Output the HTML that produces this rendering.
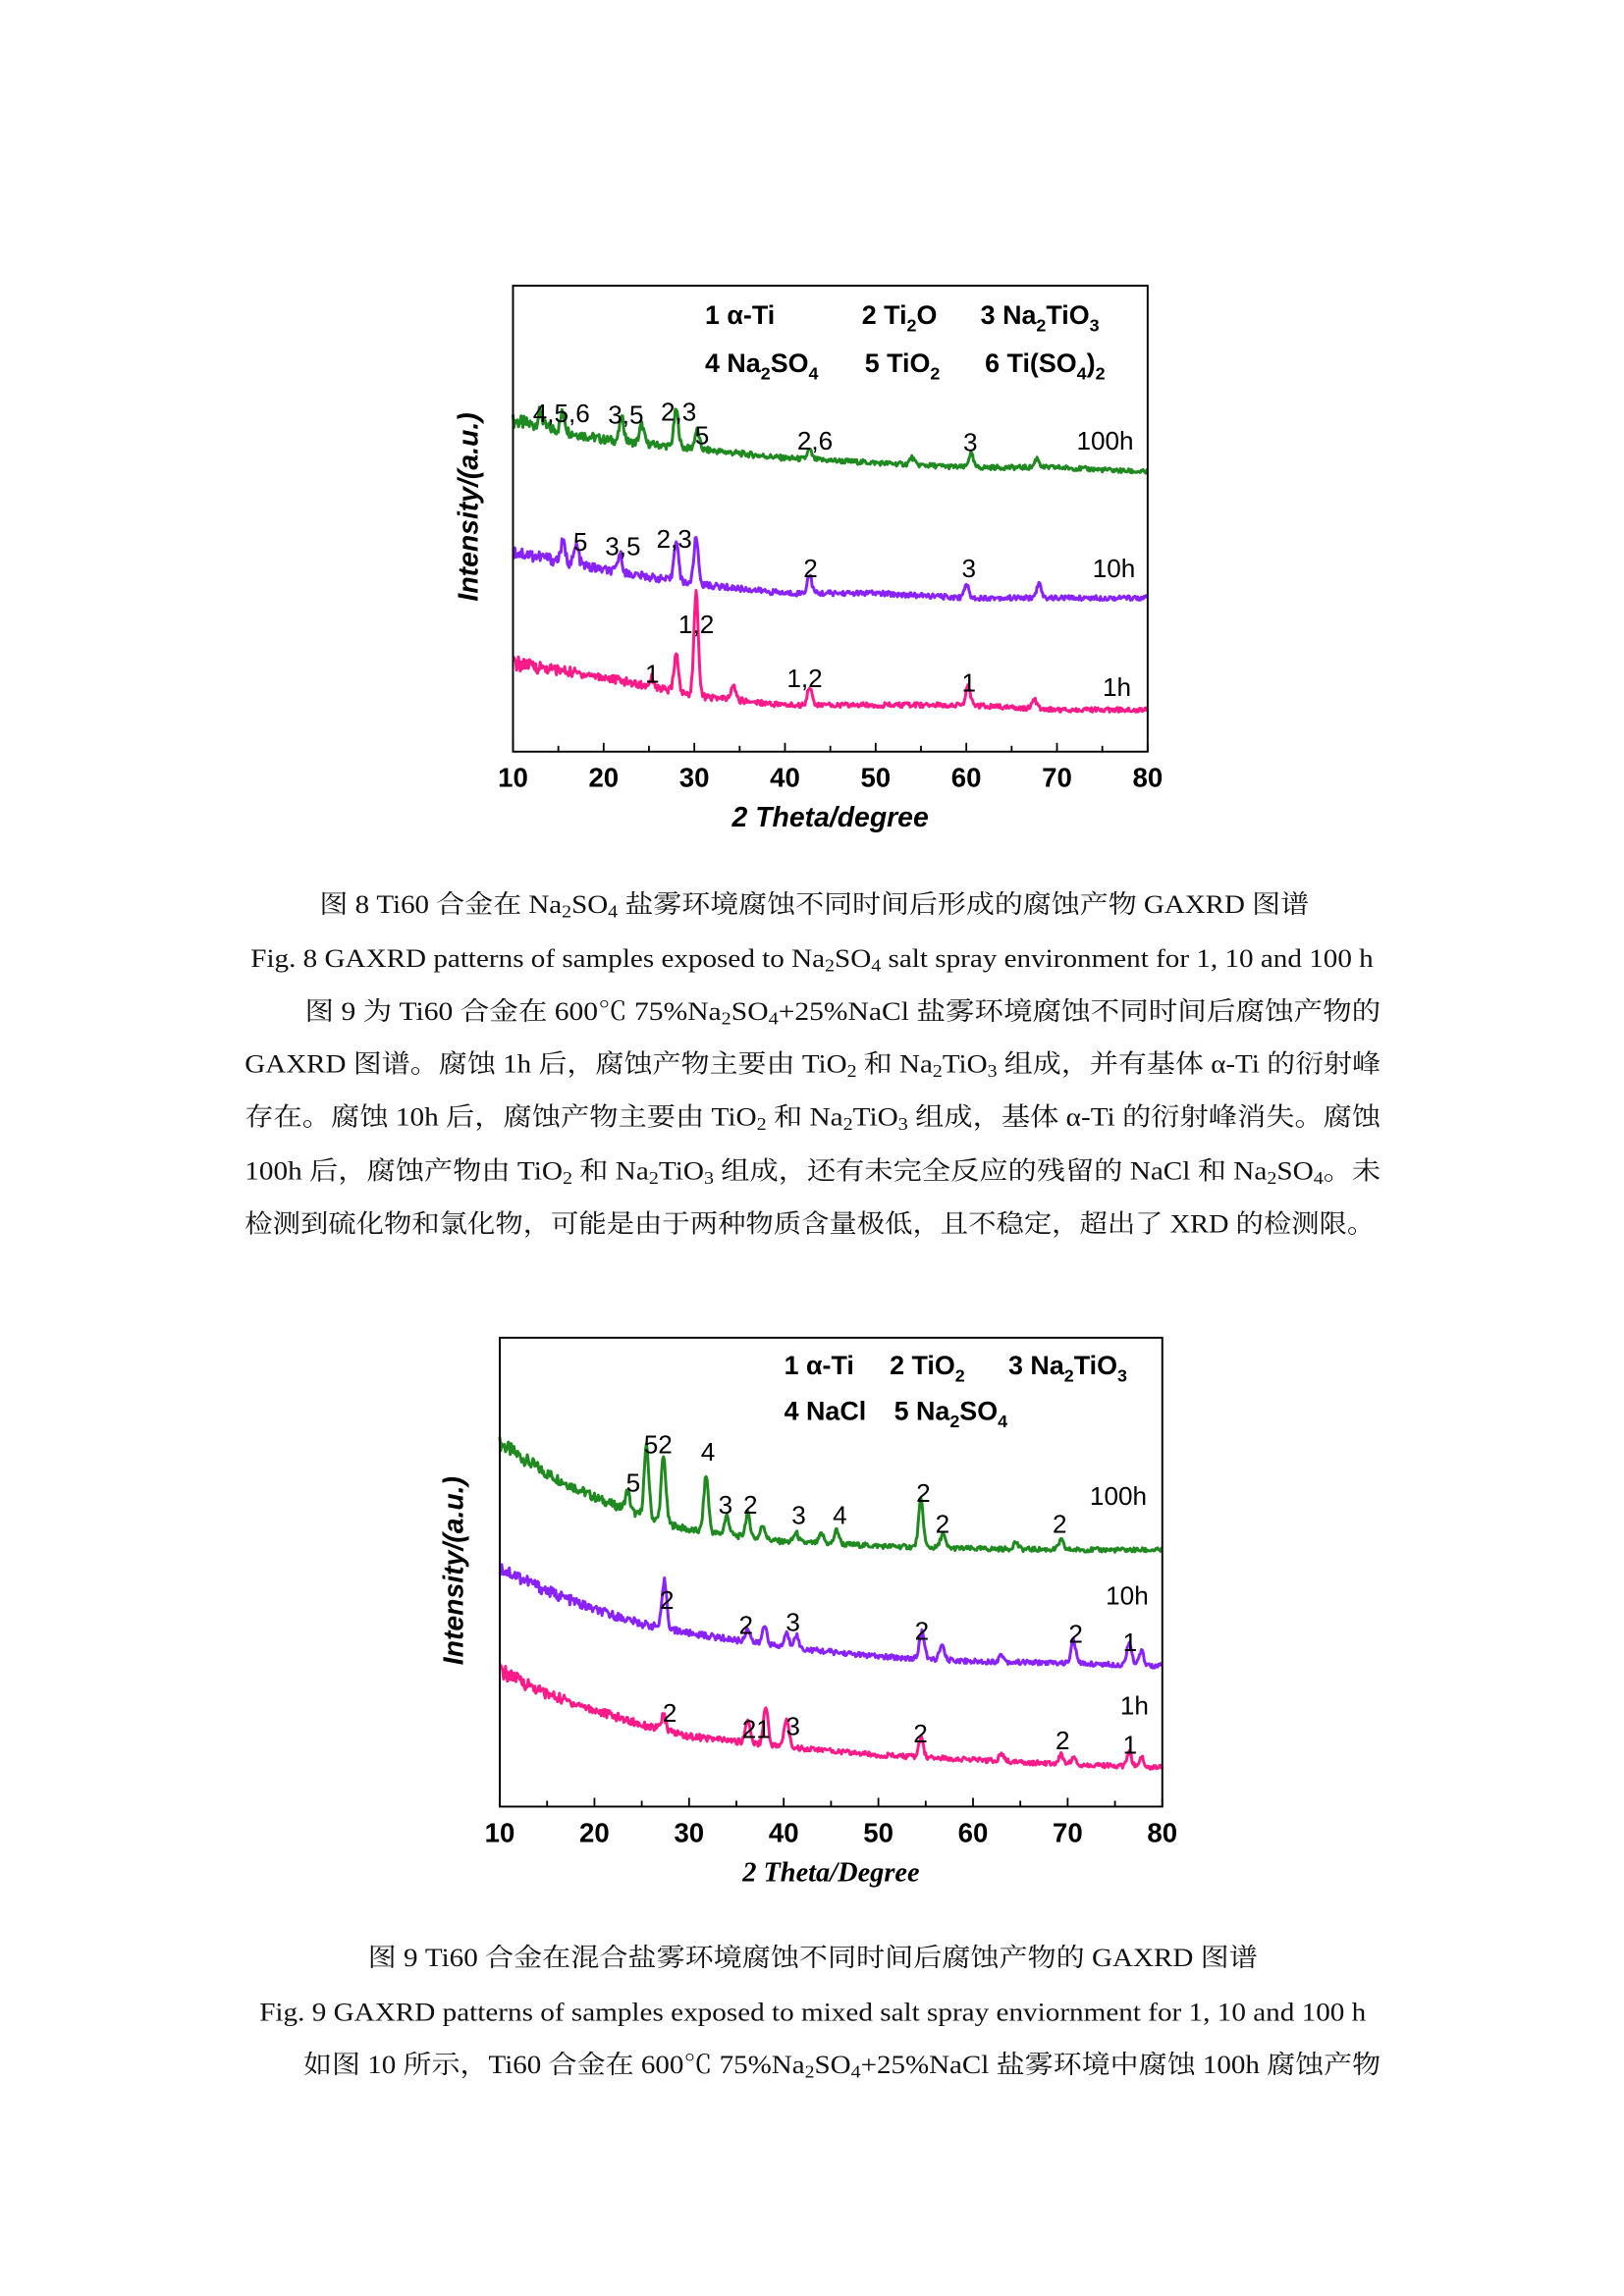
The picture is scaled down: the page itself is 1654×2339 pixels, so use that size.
<!DOCTYPE html>
<html><head><meta charset="utf-8">
<style>
html,body{margin:0;padding:0;background:#fff;}
svg{display:block;}
.t{font-family:"Liberation Serif","Noto Serif CJK SC",serif;font-size:17.5px;fill:#111;}
.ax{font-family:"Liberation Sans",sans-serif;font-weight:bold;font-size:18.5px;fill:#000;}
.lg{font-family:"Liberation Sans",sans-serif;font-weight:bold;font-size:18px;fill:#000;}
.pk{font-family:"Liberation Sans",sans-serif;font-size:17.5px;fill:#000;}
</style></head>
<body>
<svg id="page" width="1654" height="2339" viewBox="0 0 1108 1567" preserveAspectRatio="none" xmlns="http://www.w3.org/2000/svg">
<g id="c1"></g>
<g id="c2"></g>

<g class="lg">
<text x="481" y="221">1 α-Ti</text>
<text x="588" y="221">2 Ti<tspan font-size="12" dy="5">2</tspan><tspan dy="-5">O</tspan></text>
<text x="669" y="221">3 Na<tspan font-size="12" dy="5">2</tspan><tspan dy="-5">TiO</tspan><tspan font-size="12" dy="5">3</tspan></text>
<text x="481" y="254">4 Na<tspan font-size="12" dy="5">2</tspan><tspan dy="-5">SO</tspan><tspan font-size="12" dy="5">4</tspan></text>
<text x="590" y="254">5 TiO<tspan font-size="12" dy="5">2</tspan></text>
<text x="672" y="254">6 Ti(SO<tspan font-size="12" dy="5">4</tspan><tspan dy="-5">)</tspan><tspan font-size="12" dy="5">2</tspan></text>
</g>
<g class="pk" text-anchor="middle">
<text x="383" y="288">4,5,6</text><text x="427" y="289">3,5</text><text x="463" y="287">2,3</text><text x="479" y="303">5</text>
<text x="556" y="307">2,6</text><text x="662" y="308">3</text><text x="754" y="307">100h</text>
<text x="396" y="376">5</text><text x="425" y="379">3,5</text><text x="460" y="374">2,3</text>
<text x="553" y="394">2</text><text x="661" y="394">3</text><text x="760" y="394">10h</text>
<text x="475" y="432">1,2</text><text x="445" y="466">1</text><text x="549" y="469">1,2</text>
<text x="661" y="472">1</text><text x="762" y="475">1h</text>
</g>
<g class="lg">
<text x="535" y="938">1 α-Ti</text>
<text x="607" y="938">2 TiO<tspan font-size="12" dy="5">2</tspan></text>
<text x="688" y="938">3 Na<tspan font-size="12" dy="5">2</tspan><tspan dy="-5">TiO</tspan><tspan font-size="12" dy="5">3</tspan></text>
<text x="535" y="969">4 NaCl</text>
<text x="610" y="969">5 Na<tspan font-size="12" dy="5">2</tspan><tspan dy="-5">SO</tspan><tspan font-size="12" dy="5">4</tspan></text>
</g>
<g class="pk" text-anchor="middle">
<text x="432" y="1018">5</text><text x="449" y="992">52</text><text x="483" y="997">4</text>
<text x="495" y="1033">3</text><text x="512" y="1033">2</text><text x="545" y="1040">3</text><text x="573" y="1040">4</text>
<text x="630" y="1025">2</text><text x="643" y="1046">2</text><text x="723" y="1046">2</text><text x="763" y="1027">100h</text>
<text x="455" y="1098">2</text><text x="509" y="1115">2</text><text x="541" y="1113">3</text>
<text x="629" y="1119">2</text><text x="734" y="1121">2</text><text x="771" y="1127">1</text><text x="769" y="1095">10h</text>
<text x="457" y="1175">2</text><text x="516" y="1186">21</text><text x="541" y="1184">3</text>
<text x="628" y="1189">2</text><text x="725" y="1194">2</text><text x="771" y="1197">1</text><text x="774" y="1170">1h</text>
</g>

<g class="t">
<text x="218" y="623" textLength="675" lengthAdjust="spacingAndGlyphs">图 8 Ti60 合金在 Na<tspan font-size="12" dy="3">2</tspan><tspan dy="-3">SO</tspan><tspan font-size="12" dy="3">4</tspan><tspan dy="-3"> 盐雾环境腐蚀不同时间后形成的腐蚀产物 GAXRD 图谱</tspan></text>
<text x="171" y="660" textLength="766" lengthAdjust="spacingAndGlyphs">Fig. 8 GAXRD patterns of samples exposed to Na<tspan font-size="12" dy="3">2</tspan><tspan dy="-3">SO</tspan><tspan font-size="12" dy="3">4</tspan><tspan dy="-3"> salt spray environment for 1, 10 and 100 h</tspan></text>
<text x="208" y="696" textLength="734" lengthAdjust="spacingAndGlyphs">图 9 为 Ti60 合金在 600℃ 75%Na<tspan font-size="12" dy="3">2</tspan><tspan dy="-3">SO</tspan><tspan font-size="12" dy="3">4</tspan><tspan dy="-3">+25%NaCl 盐雾环境腐蚀不同时间后腐蚀产物的</tspan></text>
<text x="167" y="732" textLength="775" lengthAdjust="spacingAndGlyphs">GAXRD 图谱。腐蚀 1h 后，腐蚀产物主要由 TiO<tspan font-size="12" dy="3">2</tspan><tspan dy="-3"> 和 Na</tspan><tspan font-size="12" dy="3">2</tspan><tspan dy="-3">TiO</tspan><tspan font-size="12" dy="3">3</tspan><tspan dy="-3"> 组成，并有基体 α-Ti 的衍射峰</tspan></text>
<text x="167" y="768" textLength="775" lengthAdjust="spacingAndGlyphs">存在。腐蚀 10h 后，腐蚀产物主要由 TiO<tspan font-size="12" dy="3">2</tspan><tspan dy="-3"> 和 Na</tspan><tspan font-size="12" dy="3">2</tspan><tspan dy="-3">TiO</tspan><tspan font-size="12" dy="3">3</tspan><tspan dy="-3"> 组成，基体 α-Ti 的衍射峰消失。腐蚀</tspan></text>
<text x="167" y="805" textLength="775" lengthAdjust="spacingAndGlyphs">100h 后，腐蚀产物由 TiO<tspan font-size="12" dy="3">2</tspan><tspan dy="-3"> 和 Na</tspan><tspan font-size="12" dy="3">2</tspan><tspan dy="-3">TiO</tspan><tspan font-size="12" dy="3">3</tspan><tspan dy="-3"> 组成，还有未完全反应的残留的 NaCl 和 Na</tspan><tspan font-size="12" dy="3">2</tspan><tspan dy="-3">SO</tspan><tspan font-size="12" dy="3">4</tspan><tspan dy="-3">。未</tspan></text>
<text x="167" y="841" textLength="771" lengthAdjust="spacingAndGlyphs">检测到硫化物和氯化物，可能是由于两种物质含量极低，且不稳定，超出了 XRD 的检测限。</text>
<text x="251" y="1342" textLength="607" lengthAdjust="spacingAndGlyphs">图 9 Ti60 合金在混合盐雾环境腐蚀不同时间后腐蚀产物的 GAXRD 图谱</text>
<text x="177" y="1379" textLength="755" lengthAdjust="spacingAndGlyphs">Fig. 9 GAXRD patterns of samples exposed to mixed salt spray enviornment for 1, 10 and 100 h</text>
<text x="207" y="1415" textLength="735" lengthAdjust="spacingAndGlyphs">如图 10 所示，Ti60 合金在 600℃ 75%Na<tspan font-size="12" dy="3">2</tspan><tspan dy="-3">SO</tspan><tspan font-size="12" dy="3">4</tspan><tspan dy="-3">+25%NaCl 盐雾环境中腐蚀 100h 腐蚀产物</tspan></text>
</g>
</svg>
<script>
// ---- Fig 8 data (intensity 0..100 of plot height) ----
const bgX1 = [10,20,30,40,50,60,70,80];
const bg1_100h = [71,67,65,63,62,61,61,60];
const bg1_10h = [43,39,36,34,34,33,33,33];
const bg1_1h = [19,16,12,10,10,10,9,9];
const pk1_100h_pos = [13,15.5,22,24.2,28,30.3,42.7,54,60.5,67.8];
const pk1_100h_h = [3,4,5,4,8,4,2,1.5,3,2];
const pk1_10h_pos = [15.5,17,21.8,28,30.2,42.7,60,68];
const pk1_10h_h = [4,4,4,9,10,4,3,3];
const pk1_1h_pos = [25.3,28,30.2,34.3,42.7,60.2,67.5];
const pk1_1h_h = [2,8,22,3,4,4,2];
// ---- Fig 9 data ----
const bgX2 = [10,15,20,25,30,40,50,60,70,80];
const bg2_100h = [77.5,71,66,62,59,56.5,55.6,55,54.8,54.7];
const bg2_10h = [51,46,42,39,37,34,32,31,30.6,30];
const bg2_1h = [29,24,20.6,17.5,15,12.8,11,10,9,8.4];
const pk2_100h_pos = [23.5,25.5,27.3,31.8,34,36.2,37.8,41.3,44,45.6,54.5,56.8,64.5,69.3];
const pk2_100h_h = [4,15,14,12,4,5,3,2,2,3,10,3,1.5,2];
const pk2_10h_pos = [27.4,36.2,38,40.3,41.3,54.6,56.7,63,70.6,76.5,77.8];
const pk2_10h_h = [10,3,4,3,3,6,3,1.5,5,5,3];
const pk2_1h_pos = [27.3,36.2,38.1,40.3,54.5,63,69.3,70.6,76.5,77.8];
const pk2_1h_h = [3,5,8,6,4,1.5,2,1.5,3,2];
const xTicks = [10,20,30,40,50,60,70,80];
const xMinor = [15,25,35,45,55,65,75];

const NS="http://www.w3.org/2000/svg";
function mk(tag,parent){const e=document.createElementNS(NS,tag);parent.appendChild(e);return e;}
function interp(xs,ys,x){for(let i=0;i<xs.length-1;i++){if(x<=xs[i+1]){const t=(x-xs[i])/(xs[i+1]-xs[i]);return ys[i]+t*(ys[i+1]-ys[i]);}}return ys[ys.length-1];}
// deterministic texture for measurement noise (visual only)
function tex(k){const s=Math.sin(k*12.9898)*43758.5453;return (s-Math.floor(s))-0.5;}
function drawChart(g,box,series,title,titleSerif,ytx,yty){
  const X=v=>box.x0+(v-10)/70*(box.x1-box.x0);
  const Y=v=>box.y1-v/100*(box.y1-box.y0);
  series.forEach((s,si)=>{
    let d="";let k=0;
    for(let x=10;x<=80.0001;x+=0.1){
      let v=interp(s.bx,s.by,x);
      for(let i=0;i<s.pos.length;i++){const dx=(x-s.pos[i])/0.35;v+=s.h[i]*Math.exp(-dx*dx);}
      const amp=1.0+2.2*Math.exp(-(x-10)/12);
      v+=amp*tex(k+si*1000+1);k++;
      d+=(d?"L":"M")+X(x).toFixed(2)+" "+Y(v).toFixed(2);
    }
    const p=mk("path",g);
    
    
    p.setAttribute("d",d);p.setAttribute("fill","none");p.setAttribute("stroke",s.color);p.setAttribute("stroke-width","2");p.setAttribute("stroke-linejoin","round");
  });
  const r=mk("rect",g);
  
  
  r.setAttribute("x",box.x0);r.setAttribute("y",box.y0);r.setAttribute("width",box.x1-box.x0);r.setAttribute("height",box.y1-box.y0);
  r.setAttribute("fill","none");r.setAttribute("stroke","#000");r.setAttribute("stroke-width","1.3");
  xTicks.forEach(t=>{
    const l=mk("line",g);
    
    
    l.setAttribute("x1",X(t));l.setAttribute("x2",X(t));l.setAttribute("y1",box.y1);l.setAttribute("y2",box.y1-6);l.setAttribute("stroke","#000");l.setAttribute("stroke-width","1.2");
    const tx=mk("text",g);
    
    
    tx.setAttribute("x",X(t));tx.setAttribute("y",box.y1+24);tx.setAttribute("text-anchor","middle");tx.setAttribute("class","ax");tx.textContent=t;
  });
  xMinor.forEach(t=>{
    const l=mk("line",g);
    
    
    l.setAttribute("x1",X(t));l.setAttribute("x2",X(t));l.setAttribute("y1",box.y1);l.setAttribute("y2",box.y1-4);l.setAttribute("stroke","#000");l.setAttribute("stroke-width","1.2");
  });
  const xt=mk("text",g);
  
  
  xt.setAttribute("x",(box.x0+box.x1)/2);xt.setAttribute("y",box.y1+51);xt.setAttribute("text-anchor","middle");
  xt.setAttribute("style",titleSerif?'font-family:"Liberation Serif",serif;font-weight:bold;font-style:italic;font-size:19px':'font-family:"Liberation Sans",sans-serif;font-weight:bold;font-style:italic;font-size:19px');
  xt.textContent=title;
  const yt=mk("text",g);
  
  
  yt.setAttribute("transform","translate("+ytx+","+yty+") rotate(-90)");yt.setAttribute("text-anchor","middle");
  yt.setAttribute("style",'font-family:"Liberation Sans",sans-serif;font-weight:bold;font-style:italic;font-size:19px');
  yt.textContent="Intensity/(a.u.)";
}
const G="#1f8a1f",P="#8a22ff",K="#ff1a8a";
drawChart(document.getElementById("c1"),{x0:350,x1:783,y0:195,y1:513},[
 {name:"series-100h",color:G,bx:bgX1,by:bg1_100h,pos:pk1_100h_pos,h:pk1_100h_h},
 {name:"series-10h",color:P,bx:bgX1,by:bg1_10h,pos:pk1_10h_pos,h:pk1_10h_h},
 {name:"series-1h",color:K,bx:bgX1,by:bg1_1h,pos:pk1_1h_pos,h:pk1_1h_h}],"2 Theta/degree",false,326,346);
drawChart(document.getElementById("c2"),{x0:341,x1:793,y0:913,y1:1233},[
 {name:"series-100h",color:G,bx:bgX2,by:bg2_100h,pos:pk2_100h_pos,h:pk2_100h_h},
 {name:"series-10h",color:P,bx:bgX2,by:bg2_10h,pos:pk2_10h_pos,h:pk2_10h_h},
 {name:"series-1h",color:K,bx:bgX2,by:bg2_1h,pos:pk2_1h_pos,h:pk2_1h_h}],"2 Theta/Degree",true,316,1072);
</script>
</body></html>
